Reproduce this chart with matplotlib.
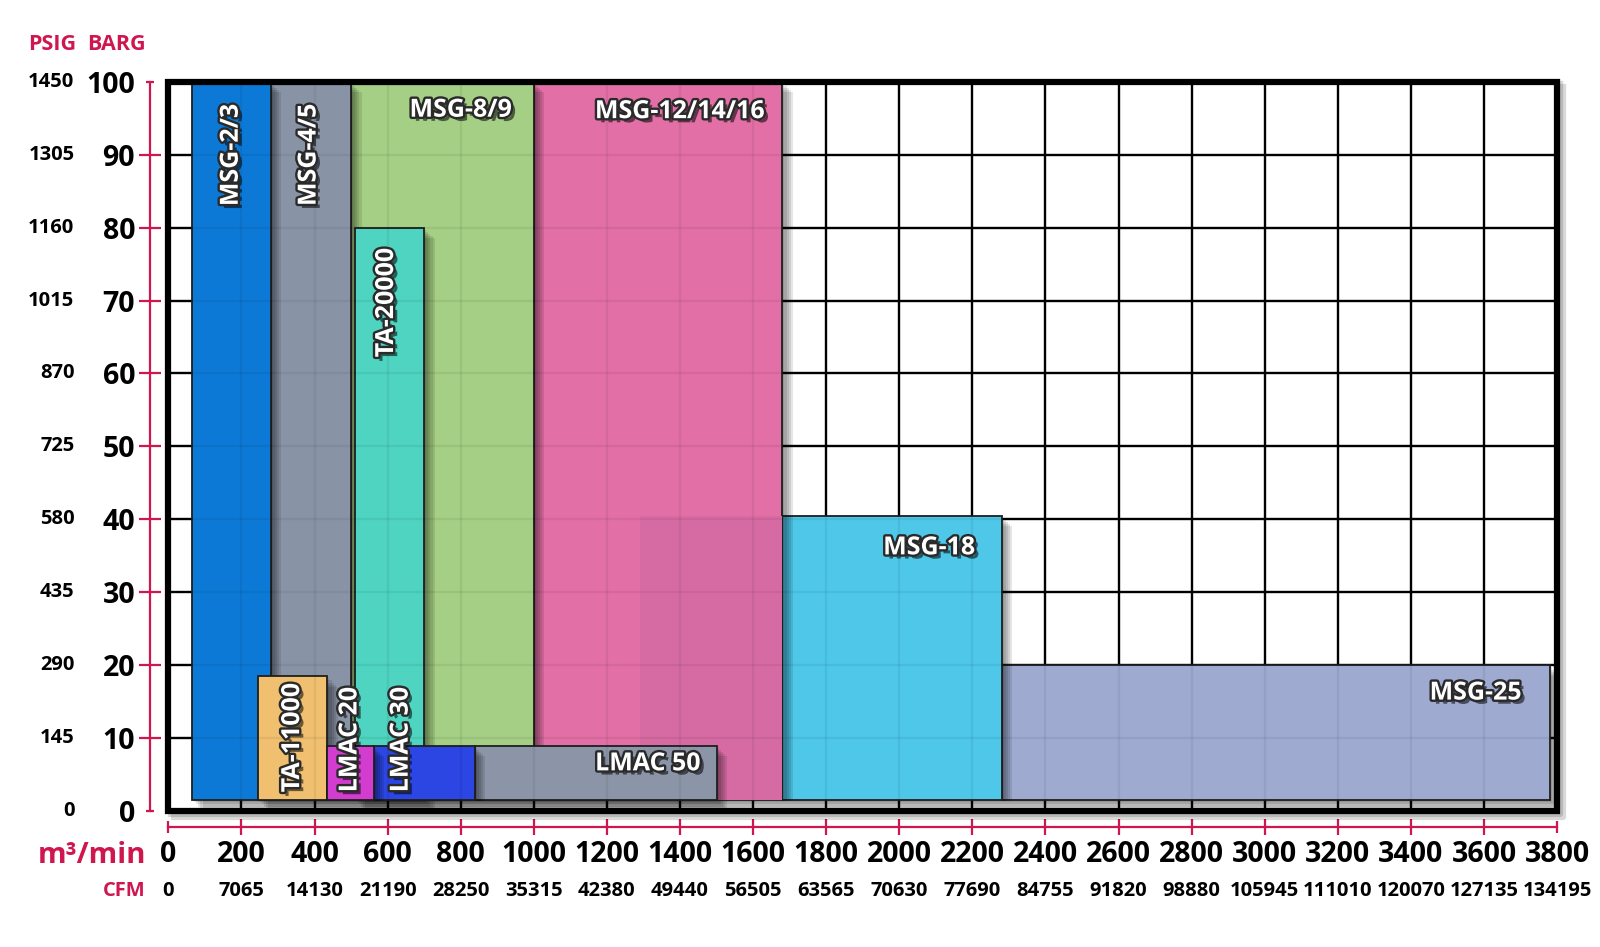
import matplotlib
matplotlib.use('Agg')
import matplotlib.pyplot as plt
import matplotlib.patheffects as pe
import matplotlib.transforms as mtransforms
from matplotlib.patches import Rectangle
from matplotlib.lines import Line2D

plt.rcParams['font.family'] = ['Open Sans', 'DejaVu Sans']

# ---------------- data ----------------
models     = ['MSG-25', 'MSG-18', 'MSG-12/14/16', '', 'MSG-8/9', 'MSG-4/5', 'MSG-2/3',
              'TA-20000', 'TA-11000', 'LMAC 50', 'LMAC 30', 'LMAC 20']
flow_min   = [2280, 1680, 1000, 1290, 500, 280, 65, 510, 245, 838, 562, 435]
flow_max   = [3780, 2280, 1680, 1680, 1000, 500, 280, 700, 435, 1500, 838, 562]
press_min  = [1.5, 1.5, 1.5, 1.5, 1.5, 1.5, 1.5, 1.5, 1.5, 1.5, 1.5, 1.5]
press_max  = [20, 40.5, 100, 40.5, 100, 100, 100, 80, 18.5, 9, 9, 9]
colors     = ['#9eaad0', '#4ec7e8', '#e26fa5', '#d66ba3', '#a4cf84', '#8894a6', '#0c79d6',
              '#4ed4c0', '#f0c070', '#8b95a7', '#2b46e2', '#d23dd0']

barg_ticks = [0, 10, 20, 30, 40, 50, 60, 70, 80, 90, 100]
psig_labels = ['0', '145', '290', '435', '580', '725', '870', '1015', '1160', '1305', '1450']
flow_ticks = list(range(0, 3801, 200))
cfm_labels = ['0', '7065', '14130', '21190', '28250', '35315', '42380', '49440', '56505',
              '63565', '70630', '77690', '84755', '91820', '98880', '105945', '111010',
              '120070', '127135', '134195']

# label layout: (x, y, rotation, ha, va)
label_pos = {
    'MSG-2/3':      (172, 97.0, 90, 'center', 'top'),
    'MSG-4/5':      (385, 97.0, 90, 'center', 'top'),
    'MSG-8/9':      (800, 97.8, 0, 'center', 'top'),
    'MSG-12/14/16': (1400, 97.6, 0, 'center', 'top'),
    'TA-20000':     (597, 77.2, 90, 'center', 'top'),
    'TA-11000':     (340, 2.6, 90, 'center', 'bottom'),
    'LMAC 20':      (497, 2.6, 90, 'center', 'bottom'),
    'LMAC 30':      (637, 2.6, 90, 'center', 'bottom'),
    'LMAC 50':      (1312, 6.5, 0, 'center', 'center'),
    'MSG-18':       (2082, 36.1, 0, 'center', 'center'),
    'MSG-25':       (3577, 16.2, 0, 'center', 'center'),
}

CRIMSON = '#d0164f'
W, H = 1568.0, 928.0   # reference pixel frame used for layout measurements


def fx(px):
    return px / W


def fy(py):
    return 1 - py / H


fig = plt.figure(figsize=(16, 9.47), dpi=100)
ax = fig.add_axes([fx(165), fy(795), fx(1526) - fx(165), fy(80) - fy(795)])
ax.set_xlim(0, 3800)
ax.set_ylim(0, 100)

# grid
ax.set_xticks(flow_ticks)
ax.set_yticks(barg_ticks)
ax.grid(True, color='black', linewidth=1.7, zorder=0)
ax.set_axisbelow(True)

# rectangles
shadow = [pe.SimplePatchShadow(offset=(o, -o), shadow_rgbFace='black', alpha=0.10)
          for o in (1.5, 3, 4.5, 6, 7.5)] + [pe.Normal()]
for name, x0, x1, y0, y1, c in zip(models, flow_min, flow_max, press_min, press_max, colors):
    if name:
        r = Rectangle((x0, y0), x1 - x0, y1 - y0, facecolor=c, edgecolor='#1e1e1e',
                      linewidth=1.3, zorder=2)
        r.set_path_effects(shadow)
    else:
        r = Rectangle((x0, y0), x1 - x0, y1 - y0, facecolor=c, edgecolor='none',
                      linewidth=0, zorder=2)
    ax.add_patch(r)

# faint grid visible through the boxes
ax.vlines(flow_ticks, 0, 100, colors='black', alpha=0.06, linewidth=1.6, zorder=3)
ax.hlines(barg_ticks, 0, 3800, colors='black', alpha=0.06, linewidth=1.6, zorder=3)

# labels
txt_fx = [pe.SimplePatchShadow(offset=(3, -3), shadow_rgbFace='black', alpha=0.55),
          pe.withStroke(linewidth=3.4, foreground='#2a2a2a')]
for name, (x, y, rot, ha, va) in label_pos.items():
    t = ax.text(x, y, name, rotation=rot, ha=ha, va=va, color='white', fontsize=18,
                fontweight='bold', zorder=6)
    t.set_path_effects(txt_fx)

# black frame with a soft shadow on the right and bottom
sh = Line2D([0, 1, 1], [0, 0, 1], transform=ax.transAxes, color='black', linewidth=4.5,
            clip_on=False, zorder=7)
sh.set_path_effects([pe.SimpleLineShadow(offset=(o, -o), shadow_color='black', alpha=0.15)
                     for o in (2, 4)])
ax.add_line(sh)
frame = Rectangle((0, 0), 1, 1, transform=ax.transAxes, fill=False, edgecolor='black',
                  linewidth=4.5, zorder=8, clip_on=False)
ax.add_patch(frame)

# crimson axes
for s in ('top', 'right'):
    ax.spines[s].set_visible(False)
ax.spines['left'].set_position(('outward', 13))
ax.spines['bottom'].set_position(('outward', 11))
for s in ('left', 'bottom'):
    ax.spines[s].set_color(CRIMSON)
    ax.spines[s].set_linewidth(1.6)
ax.tick_params(axis='y', direction='inout', length=16, width=1.6, color=CRIMSON,
               labelsize=20.5, pad=3)
ax.tick_params(axis='x', direction='inout', length=12, width=1.6, color=CRIMSON,
               labelsize=20.5, pad=4)
ax.set_yticklabels([str(v) for v in barg_ticks], fontweight='bold')
ax.set_xticklabels([str(v) for v in flow_ticks], fontweight='bold')
yt = ax.yaxis.get_major_ticks()
for t in (yt[0], yt[-1]):
    t.tick1line.set_markersize(6)
xt = ax.xaxis.get_major_ticks()
for t in (xt[0], xt[-1]):
    t.tick1line.set_markersize(8)

# PSIG column
trans_y = mtransforms.blended_transform_factory(fig.transFigure, ax.transData)
for v, lab in zip(barg_ticks, psig_labels):
    fig.text(fx(73), v, lab, transform=trans_y, ha='right', va='center',
             fontsize=14.5, fontweight='bold', color='black')

# CFM row
trans_x = mtransforms.blended_transform_factory(ax.transData, fig.transFigure)
for v, lab in zip(flow_ticks, cfm_labels):
    fig.text(v, fy(873), lab, transform=trans_x, ha='center', va='center',
             fontsize=14.5, fontweight='bold', color='black')

# headers
fig.text(fx(75), fy(44), 'PSIG', ha='right', va='center', fontsize=15.5,
         fontweight='bold', color=CRIMSON)
fig.text(fx(143), fy(44), 'BARG', ha='right', va='center', fontsize=15.5,
         fontweight='bold', color=CRIMSON)
fig.text(fx(143), fy(838), 'm³/min', ha='right', va='center', fontsize=21,
         fontweight='bold', color=CRIMSON)
fig.text(fx(143), fy(873), 'CFM', ha='right', va='center', fontsize=14.5,
         fontweight='bold', color=CRIMSON)

fig.savefig('out.png', dpi=100)
